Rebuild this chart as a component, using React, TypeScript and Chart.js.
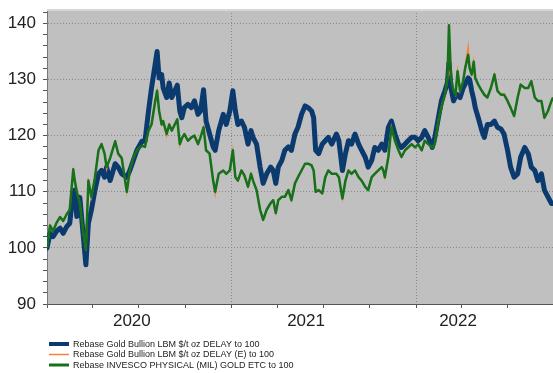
import { useEffect, useRef } from 'react';
import { Chart, registerables } from 'chart.js';

Chart.register(...registerables);

// x positions: days since 2020-01-01
const days = [
  0, 6, 12, 19, 26, 32, 39, 45, 52, 55, 59, 65, 72, 77, 82, 88, 95, 102, 108, 114, 118, 125, 135, 141, 148, 158, 164, 171, 178, 188, 194,
  201, 207, 214, 218, 222, 227, 230, 237, 242, 247, 253, 258, 263, 267, 272, 279, 286, 292, 299, 304, 310, 315, 322, 329, 333, 340, 349, 355, 362, 368, 373, 378, 385, 391, 398,
  404, 408, 415, 422, 428, 435, 443, 448, 453, 458, 465, 471, 478, 484, 491, 497, 504, 511, 517, 524, 528, 532, 538, 545, 551, 557, 564, 573, 578, 585, 591, 597,
  603, 610, 617, 623, 630, 636, 643, 649, 656, 663, 666, 669, 676, 682, 689, 696, 702, 709, 715, 722, 729, 735, 742, 748, 755, 763, 768, 775, 781, 788,
  793, 796, 800, 805, 809, 813, 818, 824, 828, 834, 837, 841, 845, 848, 854, 861, 866, 872, 879, 886, 892, 899, 905, 912, 918, 925, 932, 938, 946, 953, 959, 966, 972, 979, 985, 992, 999, 1002,
];

const goldUsd = [
  100.0, 102.6, 102.0, 103.0, 103.5, 102.6, 103.8, 104.4, 110.0, 110.3, 105.6, 109.0, 102.0, 97.0, 104.4, 106.8, 110.3, 113.2, 113.8, 112.6, 114.4, 112.0, 115.0, 114.4, 113.2, 112.6, 113.8, 115.6, 117.4, 119.0, 119.0,
  124.4, 128.5, 132.6, 135.0, 130.3, 130.9, 128.5, 126.8, 129.4, 126.8, 128.0, 129.0, 124.4, 123.2, 125.0, 125.6, 125.0, 126.2, 123.8, 124.4, 128.2, 122.6, 120.3, 118.0, 117.4, 120.9, 123.8, 122.0, 124.4, 128.0, 124.4, 122.0, 122.6, 121.5, 118.5,
  120.9, 119.7, 118.5, 114.4, 111.5, 113.2, 114.4, 113.8, 111.5, 114.4, 115.6, 117.4, 118.0, 117.4, 120.3, 121.5, 123.8, 125.3, 125.0, 124.4, 123.2, 117.4, 116.8, 118.5, 119.1, 119.7, 118.5, 120.3, 119.1, 113.8, 116.8, 119.1,
  118.5, 120.3, 118.5, 117.4, 116.2, 114.4, 115.6, 117.9, 117.4, 118.5, 118.0, 117.4, 121.5, 122.6, 120.3, 118.5, 117.9, 118.5, 119.1, 119.7, 119.7, 119.1, 119.7, 120.9, 119.7, 117.9, 119.7, 123.2, 126.2, 128.0,
  129.5, 133.0, 128.5, 126.2, 127.0, 127.3, 126.8, 128.5, 129.2, 130.3, 130.0, 128.0, 126.5, 125.0, 123.2, 120.9, 119.7, 122.0, 122.0, 122.6, 121.5, 121.2, 120.3, 117.4, 114.4, 112.6, 113.2, 116.2, 117.9, 116.8, 114.4, 113.8, 112.0, 113.2, 110.3, 109.1, 107.9, 107.9,
];

const goldEur = [
  100.0, 104.0, 103.0, 104.5, 105.5, 104.8, 106.0, 106.8, 113.6, 112.0, 110.0, 108.0, 102.6, 99.5, 111.6, 109.0, 112.6, 117.2, 118.5, 116.8, 114.0, 116.0, 119.0, 116.8, 116.0, 110.0, 113.8, 116.0, 117.4, 118.2, 118.0,
  120.9, 122.0, 126.0, 128.0, 124.4, 122.0, 122.6, 120.0, 122.0, 120.9, 122.0, 122.9, 118.3, 119.5, 120.3, 119.1, 119.7, 120.0, 118.5, 119.7, 121.5, 117.4, 116.8, 112.0, 109.6, 113.2, 113.8, 113.2, 113.8, 117.4, 112.6, 112.0, 113.8, 112.9, 110.9,
  113.2, 112.0, 110.3, 106.8, 105.0, 106.8, 108.0, 108.5, 106.2, 108.5, 109.1, 109.1, 110.3, 108.5, 111.5, 112.6, 113.8, 115.0, 115.0, 114.7, 113.8, 110.0, 110.3, 109.7, 112.6, 113.8, 113.2, 113.2, 112.6, 108.8, 112.0, 113.8,
  113.2, 113.8, 112.6, 112.0, 110.9, 110.3, 112.6, 113.2, 113.8, 114.4, 113.8, 112.6, 116.2, 121.5, 119.1, 117.4, 116.2, 117.4, 117.9, 118.5, 117.9, 118.5, 117.4, 119.1, 118.5, 117.9, 118.5, 122.8, 125.2, 127.3,
  130.0, 131.5, 130.3, 128.0, 127.3, 131.5, 128.0, 129.7, 132.2, 135.8, 132.0, 130.9, 133.2, 130.3, 129.1, 128.0, 127.3, 126.8, 128.5, 130.9, 128.0, 127.3, 127.5, 126.2, 125.0, 123.5, 126.8, 129.1, 128.5, 128.5, 129.7, 126.8, 126.2, 126.2, 123.2, 124.4, 126.2, 126.8,
];

const invescoEtc = [
  100.0, 104.0, 103.0, 104.5, 105.5, 104.8, 106.0, 106.8, 114.0, 112.0, 110.0, 108.0, 102.6, 99.7, 112.0, 109.0, 112.6, 117.4, 118.5, 116.8, 114.4, 116.0, 119.0, 116.8, 116.0, 110.0, 113.8, 116.0, 117.4, 118.2, 118.0,
  120.9, 122.0, 126.0, 128.0, 124.4, 122.0, 122.6, 120.3, 122.0, 120.9, 122.0, 122.9, 118.5, 119.5, 120.3, 119.1, 119.7, 120.0, 118.5, 119.7, 121.5, 117.4, 116.8, 112.0, 110.0, 113.2, 113.8, 113.2, 113.8, 117.4, 112.6, 112.0, 113.8, 112.9, 110.9,
  113.2, 112.0, 110.3, 106.8, 105.0, 106.8, 108.0, 108.5, 106.2, 108.5, 109.1, 109.1, 110.3, 108.5, 111.5, 112.6, 113.8, 115.0, 115.0, 114.7, 113.8, 110.0, 110.3, 109.7, 112.6, 113.8, 113.2, 113.2, 112.6, 108.8, 112.0, 113.8,
  113.2, 113.8, 112.6, 112.0, 110.9, 110.3, 112.6, 113.2, 113.8, 114.4, 113.8, 112.6, 116.2, 121.5, 119.1, 117.4, 116.2, 117.4, 117.9, 118.5, 117.9, 118.5, 117.4, 119.1, 118.5, 117.9, 118.5, 122.6, 125.0, 127.3,
  130.3, 139.7, 130.3, 128.0, 127.3, 131.5, 128.0, 129.7, 132.0, 134.4, 132.0, 130.9, 133.2, 130.3, 129.1, 128.0, 127.3, 126.8, 128.5, 130.9, 128.0, 127.3, 127.3, 126.2, 125.0, 123.5, 126.8, 129.1, 128.5, 128.5, 129.7, 126.8, 126.2, 126.2, 123.2, 124.4, 126.2, 126.8,
];

const seriesLabels = [
  'Rebase Gold Bullion LBM $/t oz DELAY to 100',
  'Rebase Gold Bullion LBM $/t oz DELAY (E) to 100',
  'Rebase INVESCO PHYSICAL (MIL) GOLD ETC to 100',
];
const seriesColors = ['#0b3a6f', '#f5813a', '#17701a'];

const yearLabels = ['2020', '2021', '2022'];
const yearLabelDays = [168, 513, 814];
const quarterDays = [0, 91, 182, 274, 366, 456, 547, 639, 731, 821, 912];
const yearStartDays = [366, 731];
const yTickValues = [90, 92, 94, 96, 98, 100, 102, 104, 106, 108, 110, 112, 114, 116, 118, 120, 122, 124, 126, 128, 130, 132, 134, 136, 138, 140, 142];

const FONT = 'Arial, "Liberation Sans", sans-serif';

const toPoints = (vals: number[]) => days.map((d, i) => ({ x: d, y: vals[i] }));

export default function App() {
  const ref = useRef<HTMLCanvasElement | null>(null);

  useEffect(() => {
    document.body.style.margin = '0';
    const canvas = ref.current;
    if (!canvas) return;

    const framePlugin = {
      id: 'frame',
      beforeDraw(chart: any) {
        const { ctx, chartArea: a } = chart;
        ctx.save();
        ctx.fillStyle = '#c0c0c0';
        ctx.fillRect(a.left, a.top, a.right - a.left, a.bottom - a.top);
        ctx.restore();
      },
      afterDraw(chart: any) {
        const { ctx, chartArea: a } = chart;
        ctx.save();
        ctx.strokeStyle = '#d6d6d6';
        ctx.lineWidth = 2;
        ctx.beginPath();
        ctx.moveTo(a.left, a.top);
        ctx.lineTo(a.right, a.top);
        ctx.stroke();
        // legend
        const widths = [4, 1.5, 3];
        const rows = [344, 354.5, 365];
        ctx.font = `9px ${FONT}`;
        ctx.textBaseline = 'middle';
        ctx.textAlign = 'left';
        for (let i = 0; i < 3; i++) {
          ctx.strokeStyle = seriesColors[i];
          ctx.lineWidth = widths[i];
          ctx.beginPath();
          ctx.moveTo(49, rows[i]);
          ctx.lineTo(69, rows[i]);
          ctx.stroke();
          ctx.fillStyle = '#222';
          ctx.fillText(seriesLabels[i], 73, rows[i] + 0.5);
        }
        ctx.restore();
      },
    };

    const chart = new Chart(canvas, {
      type: 'line',
      data: {
        datasets: [
          {
            label: seriesLabels[0],
            data: toPoints(goldUsd),
            borderColor: seriesColors[0],
            borderWidth: 5,
            pointRadius: 0,
            order: 3,
            borderJoinStyle: 'round',
            borderCapStyle: 'round',
          },
          {
            label: seriesLabels[1],
            data: toPoints(goldEur),
            borderColor: seriesColors[1],
            borderWidth: 1.5,
            pointRadius: 0,
            order: 2,
          },
          {
            label: seriesLabels[2],
            data: toPoints(invescoEtc),
            borderColor: seriesColors[2],
            borderWidth: 2.5,
            pointRadius: 0,
            order: 1,
            borderJoinStyle: 'round',
          },
        ],
      },
      options: {
        animation: false,
        responsive: false,
        devicePixelRatio: 1,
        layout: { padding: { top: 10, right: 0, bottom: 0, left: 0 } },
        plugins: { legend: { display: false }, tooltip: { enabled: false } },
        scales: {
          x: {
            type: 'linear',
            min: 0,
            max: 1002,
            afterBuildTicks: (scale: any) => {
              const vals = [...quarterDays, ...yearLabelDays].sort((a, b) => a - b);
              scale.ticks = vals.map((v) => ({ value: v }));
            },
            afterFit: (scale: any) => {
              scale.height = 69;
              scale.paddingLeft = 0;
              scale.paddingRight = 0;
            },
            ticks: {
              autoSkip: false,
              maxRotation: 0,
              padding: 3,
              color: '#222',
              font: { family: FONT, size: 17 },
              callback: (value: any) => {
                const i = yearLabelDays.indexOf(Number(value));
                return i >= 0 ? yearLabels[i] : '';
              },
            },
            grid: {
              tickLength: 4,
              lineWidth: 1,
              color: (ctx: any) => (ctx.tick && yearStartDays.includes(ctx.tick.value) ? '#8a8a8a' : 'rgba(0,0,0,0)'),
              tickColor: (ctx: any) => (ctx.tick && quarterDays.includes(ctx.tick.value) ? '#555' : 'rgba(0,0,0,0)'),
            },
            border: { display: true, color: '#555', width: 1, dash: [1, 2] },
          },
          y: {
            type: 'linear',
            min: 90,
            max: 142.4,
            afterBuildTicks: (scale: any) => {
              scale.ticks = yTickValues.map((v) => ({ value: v }));
            },
            afterFit: (scale: any) => {
              scale.width = 47;
              scale.paddingTop = 0;
              scale.paddingBottom = 0;
            },
            ticks: {
              autoSkip: false,
              padding: 7,
              color: '#222',
              font: { family: FONT, size: 17 },
              callback: (value: any) => (Number(value) % 10 === 0 ? String(value) : ''),
            },
            grid: {
              tickLength: 4,
              lineWidth: 1,
              color: (ctx: any) =>
                ctx.tick && ctx.tick.value % 10 === 0 && ctx.tick.value !== 90 ? '#8a8a8a' : 'rgba(0,0,0,0)',
              tickColor: '#555',
            },
            border: { display: true, color: '#777', width: 1, dash: [1, 2] },
          },
        },
      },
      plugins: [framePlugin],
    } as any);

    return () => chart.destroy();
  }, []);

  return (
    <div style={{ width: 553, height: 373, background: '#fff' }}>
      <canvas ref={ref} width={553} height={373} style={{ display: 'block' }} />
    </div>
  );
}
